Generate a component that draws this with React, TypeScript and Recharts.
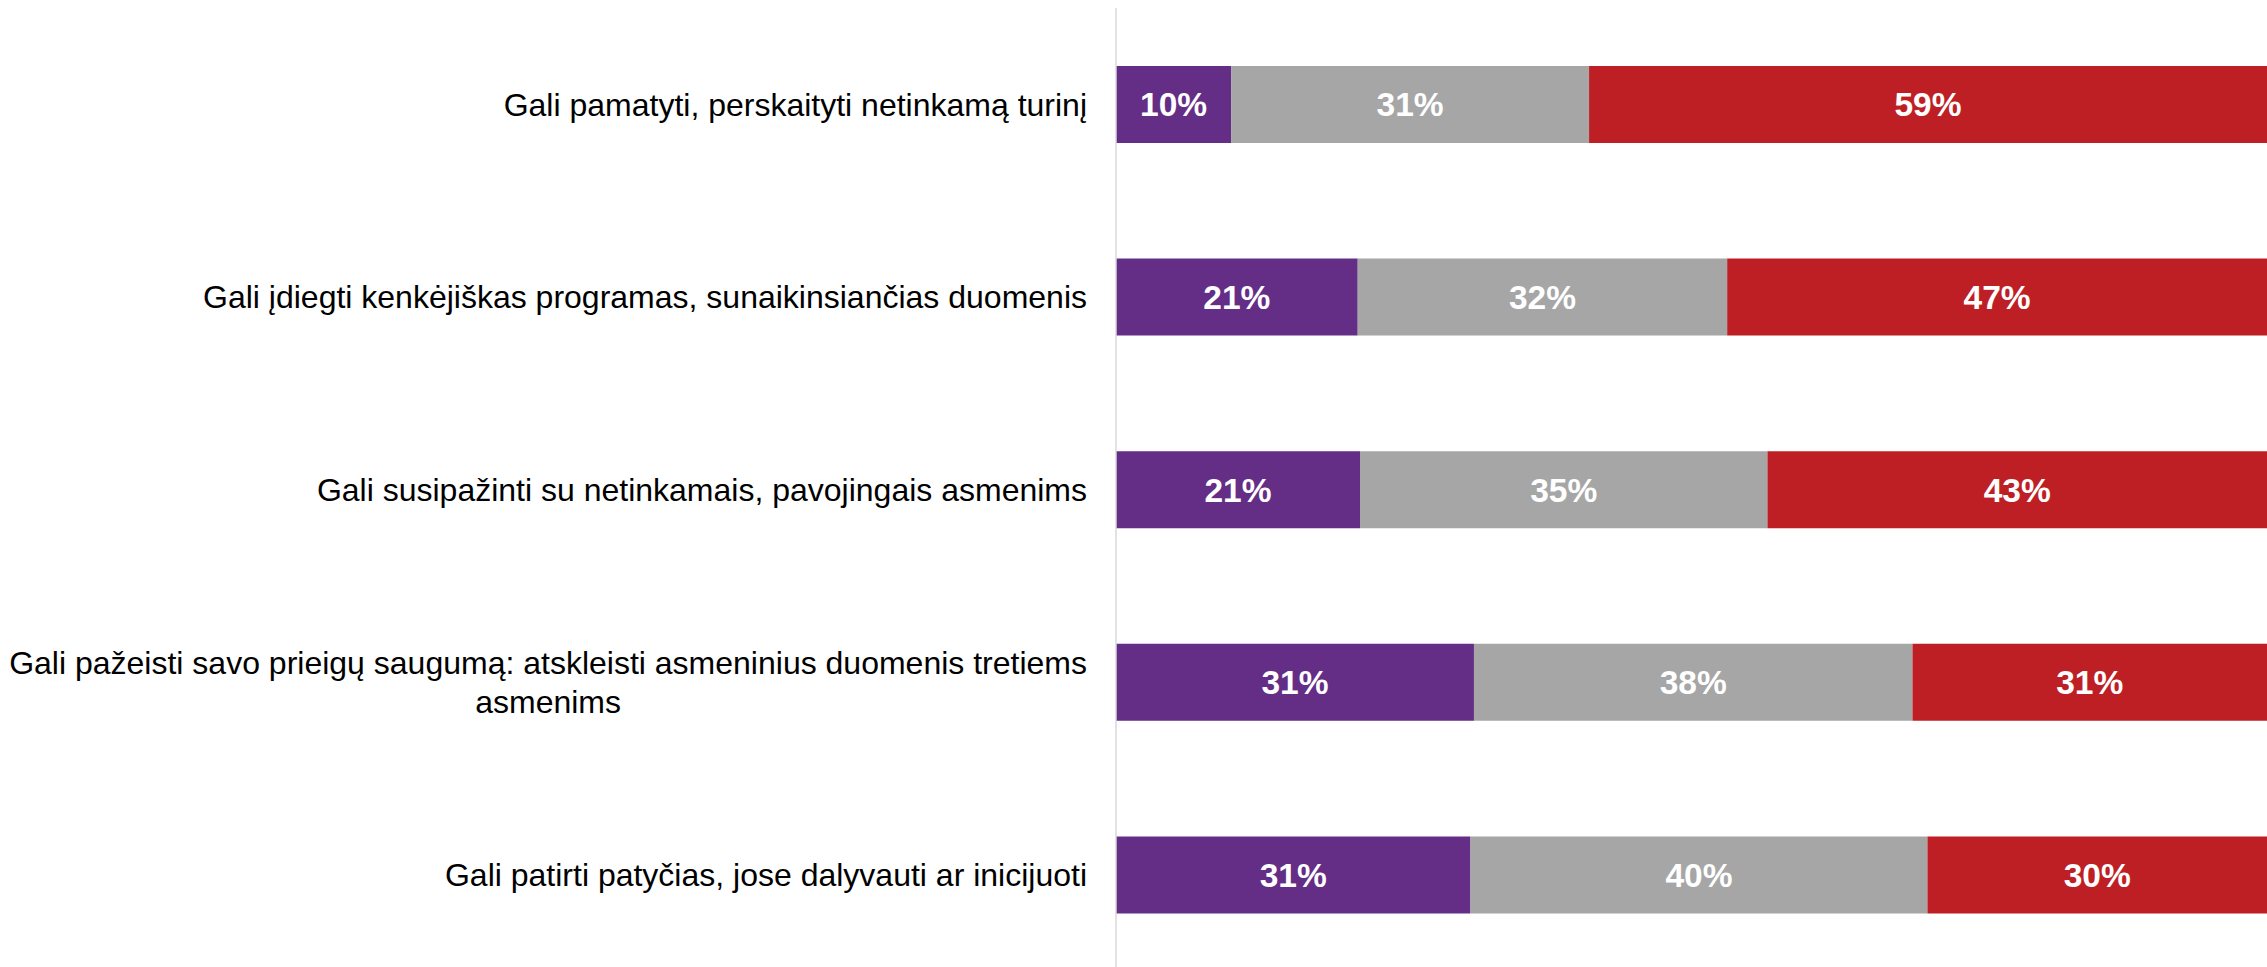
import React from "react";
import { BarChart, Bar, XAxis, YAxis, LabelList } from "recharts";

const categories = [
  "Gali pamatyti, perskaityti netinkamą turinį",
  "Gali įdiegti kenkėjiškas programas, sunaikinsiančias duomenis",
  "Gali susipažinti su netinkamais, pavojingais asmenims",
  "Gali pažeisti savo prieigų saugumą: atskleisti asmeninius duomenis tretiems\nasmenims",
  "Gali patirti patyčias, jose dalyvauti ar inicijuoti",
];

const purpleValues = [10.0, 21.0, 21.2, 31.1, 30.8];
const greyValues = [31.1, 32.1, 35.4, 38.1, 39.7];
const redValues = [58.9, 46.9, 43.4, 30.8, 29.5];

const data = categories.map((name, i) => ({
  name,
  a: purpleValues[i],
  b: greyValues[i],
  c: redValues[i],
}));

const FONT = "'Liberation Sans', Arial, sans-serif";
const LABEL_SIZE = 32;
const LINE_GAP = 39;

function measure(text: string): number {
  const ctx = document.createElement("canvas").getContext("2d");
  if (!ctx) return text.length * LABEL_SIZE * 0.5;
  ctx.font = `${LABEL_SIZE}px 'Liberation Sans', Arial, sans-serif`;
  return ctx.measureText(text).width;
}

function CategoryTick(props: any) {
  const { x, y, payload } = props;
  const lines: string[] = String(payload.value).split("\n");
  if (lines.length === 1) {
    return (
      <text x={x} y={y} dy="0.35em" textAnchor="end" fontSize={LABEL_SIZE} fontFamily={FONT} fill="#000">
        {lines[0]}
      </text>
    );
  }
  const widest = Math.max(...lines.map(measure));
  const cx = x - widest / 2;
  const startY = y - ((lines.length - 1) * LINE_GAP) / 2;
  return (
    <text textAnchor="middle" fontSize={LABEL_SIZE} fontFamily={FONT} fill="#000">
      {lines.map((l, i) => (
        <tspan key={i} x={cx} y={startY + i * LINE_GAP} dy="0.35em">
          {l}
        </tspan>
      ))}
    </text>
  );
}

const pct = (v: any) => `${Math.round(Number(v))}%`;
const valueStyle = { fill: "#fff", fontSize: 33.5, fontWeight: 700, fontFamily: FONT };

export default function App() {
  return (
    <div style={{ position: "absolute", left: 0, top: 0, width: 2267, height: 967, overflow: "hidden", background: "#fff" }}>
      <BarChart
        width={2267}
        height={975}
        data={data}
        layout="vertical"
        margin={{ top: 8, right: 0, left: 0, bottom: 4 }}
        barSize={77}
      >
        <XAxis type="number" domain={[0, 100]} hide />
        <YAxis
          type="category"
          dataKey="name"
          width={1116}
          interval={0}
          tickLine={false}
          tickSize={0}
          tickMargin={29}
          axisLine={{ stroke: "#d9d9d9", strokeWidth: 1.5 }}
          tick={<CategoryTick />}
        />
        <Bar dataKey="a" stackId="s" fill="#642D86" isAnimationActive={false}>
          <LabelList dataKey="a" position="center" formatter={pct} style={valueStyle} />
        </Bar>
        <Bar dataKey="b" stackId="s" fill="#A6A6A6" isAnimationActive={false}>
          <LabelList dataKey="b" position="center" formatter={pct} style={valueStyle} />
        </Bar>
        <Bar dataKey="c" stackId="s" fill="#BE1F25" isAnimationActive={false}>
          <LabelList dataKey="c" position="center" formatter={pct} style={valueStyle} />
        </Bar>
      </BarChart>
    </div>
  );
}
